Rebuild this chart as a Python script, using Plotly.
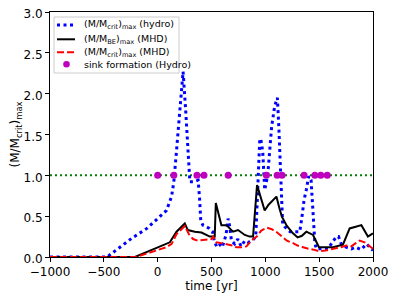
import plotly.graph_objects as go

# --- data ---
t_hydro = [-1000, -470, -350, -240, -100, 5, 82, 129, 150, 175, 200, 236, 260, 283, 299,
           330, 360, 376, 390, 400, 420, 450, 480, 510, 525, 550, 580, 600, 635, 654, 670,
           685, 715, 745, 775, 810, 840, 880, 911, 948, 957, 976, 994, 1022, 1059, 1087,
           1112, 1125, 1161, 1180, 1230, 1275, 1320, 1340, 1360, 1380, 1403, 1425, 1443,
           1460, 1474, 1530, 1582, 1628, 1660, 1680, 1705, 1750, 1800, 1840, 1890, 1940,
           1975, 2000]
m_hydro = [0.0, 0.0, 0.12, 0.23, 0.35, 0.47, 0.57, 0.74, 0.92, 1.30, 1.70, 2.27, 1.80,
           1.31, 0.92, 0.92, 0.93, 0.94, 0.70, 0.45, 0.39, 0.37, 0.35, 0.31, 0.20, 0.12,
           0.15, 0.12, 0.27, 0.47, 0.37, 0.20, 0.16, 0.22, 0.13, 0.20, 0.18, 0.20, 0.25,
           1.43, 1.45, 1.29, 0.82, 1.00, 1.60, 1.85, 1.95, 1.60, 0.40, 0.37, 0.31, 0.31,
           0.31, 0.49, 0.70, 0.82, 0.99, 0.94, 0.49, 0.17, 0.10, 0.10, 0.10, 0.19, 0.25,
           0.25, 0.16, 0.12, 0.10, 0.12, 0.09, 0.16, 0.12, 0.08]

t_be_mhd = [-1000, -211, 113, 175, 252, 280, 345, 407, 484, 530, 540, 592, 639, 700, 747,
            778, 809, 855, 886, 923, 960, 994, 1030, 1060, 1103, 1130, 1155, 1200, 1257,
            1300, 1340, 1381, 1410, 1443, 1498, 1567, 1628, 1721, 1783, 1840, 1892, 1953,
            1999]
m_be_mhd = [0.0, 0.0, 0.18, 0.31, 0.41, 0.33, 0.31, 0.30, 0.25, 0.25, 0.66, 0.39, 0.39,
            0.31, 0.33, 0.30, 0.27, 0.25, 0.25, 0.88, 0.72, 0.57, 0.64, 0.68, 0.74, 0.60,
            0.49, 0.38, 0.29, 0.24, 0.26, 0.31, 0.29, 0.27, 0.12, 0.12, 0.12, 0.15, 0.35,
            0.37, 0.39, 0.25, 0.29]

t_crit_mhd = [-1000, -200, 82, 130, 175, 252, 290, 329, 370, 420, 470, 500, 515, 545,
              590, 650, 700, 730, 780, 825, 870, 920, 960, 1010, 1060, 1110, 1155, 1200,
              1257, 1300, 1350, 1400, 1450, 1500, 1560, 1640, 1700, 1752, 1798, 1840, 1876,
              1922, 1968, 2000]
m_crit_mhd = [0.0, 0.0, 0.12, 0.16, 0.28, 0.38, 0.28, 0.22, 0.20, 0.21, 0.22, 0.22, 0.25,
              0.18, 0.17, 0.15, 0.14, 0.12, 0.12, 0.13, 0.20, 0.25, 0.32, 0.36, 0.34, 0.30,
              0.25, 0.20, 0.17, 0.14, 0.12, 0.10, 0.09, 0.07, 0.08, 0.10, 0.12, 0.14, 0.13,
              0.17, 0.20, 0.18, 0.13, 0.10]

t_sink = [0, 150, 365, 430, 655, 1010, 1110, 1155, 1360, 1460, 1515, 1575]
m_sink = [1.0] * len(t_sink)

x_ticks = [-1000, -500, 0, 500, 1000, 1500, 2000]
y_ticks = [0.0, 0.5, 1.0, 1.5, 2.0, 2.5, 3.0]

legend_labels = ["(M/M<sub>crit</sub>)<sub>max</sub> (hydro)",
                 "(M/M<sub>BE</sub>)<sub>max</sub> (MHD)",
                 "(M/M<sub>crit</sub>)<sub>max</sub> (MHD)",
                 "sink formation (Hydro)"]

FONT = "DejaVu Sans"
BLUE, BLACK, RED, MAG, GREEN = "#0000ff", "#000000", "#ff0000", "#bf00bf", "#008000"
BLUE_DASH, RED_DASH, GREEN_DASH = "3px,3.5px", "7px,3px", "2px,3px"

# page is offset by the 8px body margin; figure sized to fit the window
W, H = 391, 291
ML, MR, MT, MB = 42, 26, 4, 42
PW, PH = W - ML - MR, H - MT - MB


def px(x):  # figure-local pixel -> paper x
    return (x - ML) / PW


def py(y):  # figure-local pixel -> paper y
    return (H - MB - y) / PH


fig = go.Figure()

fig.add_trace(go.Scatter(x=[-1000, 2000], y=[1.0, 1.0], mode="lines",
                         line=dict(color=GREEN, width=2, dash=GREEN_DASH),
                         showlegend=False, hoverinfo="skip"))
fig.add_trace(go.Scatter(x=t_hydro, y=m_hydro, mode="lines", name=legend_labels[0],
                         line=dict(color=BLUE, width=3, dash=BLUE_DASH), showlegend=False))
fig.add_trace(go.Scatter(x=t_be_mhd, y=m_be_mhd, mode="lines", name=legend_labels[1],
                         line=dict(color=BLACK, width=2), showlegend=False))
fig.add_trace(go.Scatter(x=t_crit_mhd, y=m_crit_mhd, mode="lines", name=legend_labels[2],
                         line=dict(color=RED, width=2, dash=RED_DASH), showlegend=False))
fig.add_trace(go.Scatter(x=t_sink, y=m_sink, mode="markers", name=legend_labels[3],
                         marker=dict(color=MAG, size=7, line=dict(width=0)),
                         showlegend=False))

# manual legend box (matplotlib-style compact legend)
shapes = [dict(type="rect", xref="paper", yref="paper",
               x0=px(46), x1=px(171), y0=py(65), y1=py(9),
               fillcolor="rgba(255,255,255,0.85)", line=dict(color="#cccccc", width=1),
               layer="above")]
rows = [17, 31.3, 44.3, 56.3]
styles = [(BLUE, 3, BLUE_DASH), (BLACK, 2, "solid"), (RED, 2, RED_DASH)]
for yy, (c, w, d) in zip(rows[:3], styles):
    shapes.append(dict(type="line", xref="paper", yref="paper",
                       x0=px(49), x1=px(67), y0=py(yy), y1=py(yy),
                       line=dict(color=c, width=w, dash=d), layer="above"))
shapes.append(dict(type="circle", xref="paper", yref="paper",
                   x0=px(55.2), x1=px(61.8), y0=py(rows[3] + 3.3), y1=py(rows[3] - 3.3),
                   fillcolor=MAG, line=dict(width=0), layer="above"))
annotations = [dict(text=lab, xref="paper", yref="paper", x=px(74), y=py(yy),
                    xanchor="left", yanchor="middle", showarrow=False,
                    font=dict(family=FONT, size=9.5, color="black"))
               for lab, yy in zip(legend_labels, rows)]

fig.update_layout(
    width=W, height=H,
    margin=dict(l=ML, r=MR, t=MT, b=MB, autoexpand=False),
    paper_bgcolor="white", plot_bgcolor="white",
    font=dict(family=FONT, size=12, color="black"),
    showlegend=False, shapes=shapes, annotations=annotations,
)
fig.update_xaxes(range=[-1000, 2000], tickvals=x_ticks, automargin=False,
                 ticklabeloverflow="allow",
                 showline=True, linecolor="black", linewidth=1, mirror=True,
                 ticks="outside", ticklen=4, tickcolor="black", showgrid=False,
                 zeroline=False, title=dict(text="time [yr]", standoff=0,
                                            font=dict(size=12)))
fig.update_yaxes(range=[0, 3], tickvals=y_ticks, tickformat=".1f", automargin=False,
                 ticklabeloverflow="allow", ticklabelshift=2,
                 showline=True, linecolor="black", linewidth=1, mirror=True,
                 ticks="outside", ticklen=4, tickcolor="black", showgrid=False,
                 zeroline=False,
                 title=dict(text="(M/M<sub>crit</sub>)<sub>max</sub>", standoff=6,
                            font=dict(size=12)))

fig.write_html("out.html")
